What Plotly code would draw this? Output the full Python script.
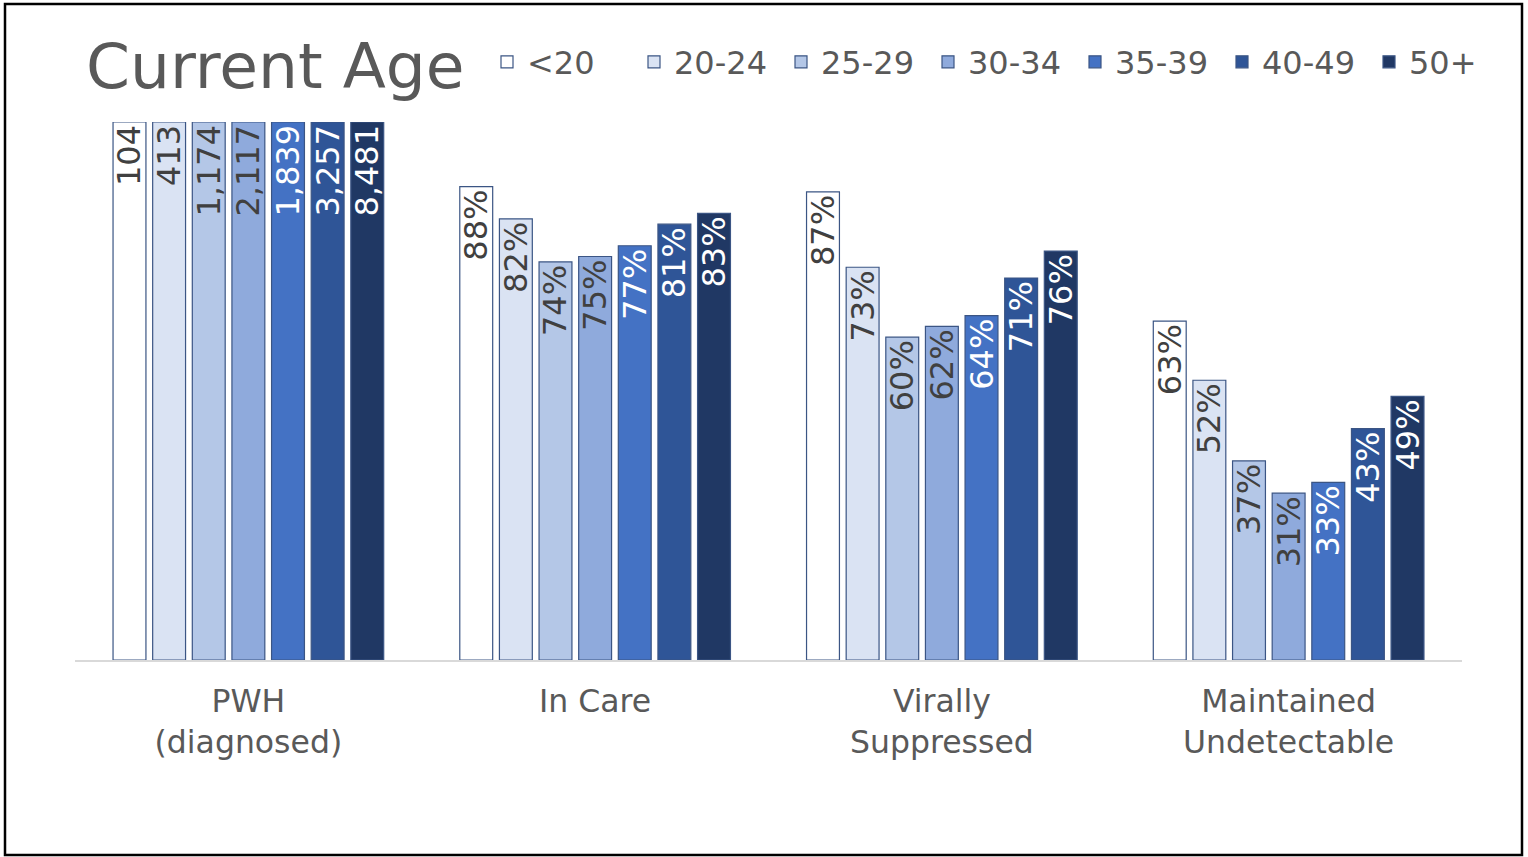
import plotly.graph_objects as go

# Care-continuum stages (x categories)
stages = ["PWH<br>(diagnosed)", "In Care", "Virally<br>Suppressed", "Maintained<br>Undetectable"]

# Age groups (one series each)
age_groups = ["<20", "20-24", "25-29", "30-34", "35-39", "40-49", "50+"]

# Diagnosed counts per age group (PWH bars are drawn at 100%)
pwh_counts = [104, 413, 1174, 2117, 1839, 3257, 8481]

# Percent of diagnosed at each later stage, per age group
in_care = [88, 82, 74, 75, 77, 81, 83]
virally_suppressed = [87, 73, 60, 62, 64, 71, 76]
maintained_undetectable = [63, 52, 37, 31, 33, 43, 49]

fill_colors = ["#FFFFFF", "#DAE3F3", "#B4C7E7", "#8FAADC", "#4472C4", "#2F5597", "#203864"]
label_colors = ["#404040", "#404040", "#404040", "#404040", "#FFFFFF", "#FFFFFF", "#FFFFFF"]

FONT = "DejaVu Sans"
GRAY = "#595959"

fig = go.Figure()
for i, grp in enumerate(age_groups):
    pcts = [100, in_care[i], virally_suppressed[i], maintained_undetectable[i]]
    labels = [f"{pwh_counts[i]:,}"] + [f"{p}%" for p in pcts[1:]]
    fig.add_trace(go.Bar(
        name=grp,
        x=stages,
        y=[p / 100 for p in pcts],
        text=labels,
        textposition="inside",
        insidetextanchor="end",
        textangle=-90,
        constraintext="none",
        textfont=dict(family=FONT, size=32, color=label_colors[i]),
        marker=dict(color=fill_colors[i], line=dict(color="#3B5584", width=1.2)),
        hoverinfo="skip",
    ))

W, H = 1528, 857
ml, mr, mt, mb = 75, 66, 122, 197
pw, ph = W - ml - mr, H - mt - mb

def px_x(x):
    return (x - ml) / pw

def px_y(y):
    return (H - mb - y) / ph

fig.update_layout(
    width=W, height=H,
    margin=dict(l=ml, r=mr, t=mt, b=mb, autoexpand=False),
    paper_bgcolor="white", plot_bgcolor="white",
    barmode="group", bargap=0.2, bargroupgap=0.17,
    font=dict(family=FONT, color=GRAY),
    title=dict(
        text="Current Age",
        font=dict(family=FONT, size=63, color=GRAY),
        x=86 / W, xanchor="left", xref="container",
        y=1 - 66 / H, yanchor="middle", yref="container",
    ),
    legend=dict(
        orientation="h",
        x=px_x(487), xanchor="left",
        y=px_y(62), yanchor="middle",
        font=dict(family=FONT, size=32, color=GRAY),
        bgcolor="rgba(0,0,0,0)",
        traceorder="normal",
        entrywidth=102, entrywidthmode="pixels",
    ),
    showlegend=True,
    xaxis=dict(
        showline=True, linecolor="#D9D9D9", linewidth=2,
        ticks="", showgrid=False,
        tickfont=dict(family=FONT, size=31.5, color=GRAY),
        ticklabelstandoff=12,
    ),
    yaxis=dict(range=[0, 1], visible=False, showgrid=False),
    shapes=[dict(
        type="rect", xref="paper", yref="paper",
        x0=px_x(5), x1=px_x(1522), y0=px_y(855), y1=px_y(4),
        line=dict(color="black", width=2.5), fillcolor="rgba(0,0,0,0)",
        layer="below",
    )],
)

fig.write_html("out.html")
